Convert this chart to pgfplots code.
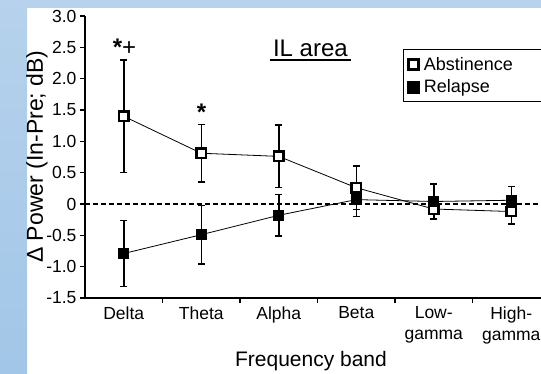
\documentclass[border=0pt]{standalone}
\usepackage{pgfplots}
\usepackage{pgfplotstable}
\pgfplotsset{compat=1.18}
\usepackage{fontspec}
\setmainfont{Liberation Sans}

\definecolor{bgtop}{RGB}{182,210,236}
\definecolor{bgbot}{RGB}{162,198,232}

% a single square mark as legend symbol
\pgfplotsset{sqlegend/.style={legend image code/.code={%
  \path (0pt,-6pt) rectangle (12pt,6pt);
  \draw[##1] plot coordinates {(6pt,0pt)};}}}

% band, mean change, error
\pgfplotstableread{
x y e
0 1.40 0.90
1 0.81 0.46
2 0.76 0.50
3 0.26 0.35
4 -0.08 0.16
5 -0.12 0.20
}\abstinence

\pgfplotstableread{
x y e
0 -0.79 0.53
1 -0.49 0.47
2 -0.18 0.33
3 0.07 0.27
4 0.04 0.28
5 0.06 0.22
}\relapse

\newcommand\legfont{\fontsize{18}{21}\selectfont}

\begin{document}
\begin{tikzpicture}
\useasboundingbox (0pt,0pt) rectangle (541pt,373pt);
\fill[white] (0pt,0pt) rectangle (541pt,373pt);
\shade[top color=bgtop, bottom color=bgbot] (0pt,0pt) rectangle (27pt,373pt);
\fill[bgtop] (0pt,364.5pt) rectangle (541pt,373pt);

\begin{scope}
\clip (0pt,0pt) rectangle (541pt,373pt);
\begin{axis}[
  at={(85pt,75pt)}, anchor=south west,
  scale only axis, width=465pt, height=282pt,
  xmin=-0.5, xmax=5.5, ymin=-1.5, ymax=3,
  axis x line*=bottom, axis y line*=left,
  axis line style={-, line width=1.2pt, black},
  xtick={0,1,2,3,4,5},
  xticklabels={Delta,Theta,Alpha,Beta,{Low-\\gamma},{High-\\gamma}},
  major x tick style={draw=none},
  minor xtick={0.5,1.5,2.5,3.5,4.5},
  ytick={-1.5,-1,-0.5,0,0.5,1,1.5,2,2.5,3},
  yticklabels={-1.5,-1.0,-0.5,0,0.5,1.0,1.5,2.0,2.5,3.0},
  tick align=outside, major tick length=5pt, minor tick length=5pt,
  tick style={line width=1.2pt, black},
  ticklabel style={font=\fontsize{17.5}{21}\selectfont},
  xticklabel style={align=center},
  legend style={at={(axis cs:3.6,2.47)}, anchor=north west, draw=black,
    line width=0.8pt, font=\legfont,
    nodes={inner xsep=2pt, inner ysep=4pt},
    row sep=0pt, column sep=2pt, inner xsep=4pt, inner ysep=3.5pt},
  legend cell align=left,
]
% the legend frame runs on past the right edge of the picture
\addlegendimage{only marks, mark=square*, mark size=4.6pt,
  mark options={fill=white, draw=black, line width=2pt}, sqlegend}
\addlegendentry{\makebox[150pt][l]{Abstinence}}
\addlegendimage{only marks, mark=square*, mark size=5.2pt,
  mark options={fill=black, draw=black, line width=0.6pt}, sqlegend}
\addlegendentry{Relapse}

\draw[line width=1.3pt, dash pattern=on 4.5pt off 3.5pt] (axis cs:-0.5,0) -- (axis cs:5.5,0);

\addplot[forget plot, black, line width=0.8pt, mark=square*, mark size=4.8pt,
  mark options={fill=white, draw=black, line width=2.2pt, solid},
  error bars/.cd, y dir=both, y explicit,
  error bar style={line width=1.5pt, black},
  error mark options={rotate=90, mark size=3.5pt, line width=1.5pt, black}]
  table[x=x, y=y, y error=e] {\abstinence};

\addplot[forget plot, black, line width=0.8pt, mark=square*, mark size=5.2pt,
  mark options={fill=black, draw=black, line width=1pt, solid},
  error bars/.cd, y dir=both, y explicit,
  error bar style={line width=1.5pt, black},
  error mark options={rotate=90, mark size=3.5pt, line width=1.5pt, black}]
  table[x=x, y=y, y error=e] {\relapse};
\end{axis}
\end{scope}

% title, significance marks and axis titles
\node[anchor=base, font=\fontsize{24}{24}\selectfont] (t) at (310.4pt,316.5pt) {IL area};
\draw[line width=1.4pt] ([yshift=-3.5pt]t.base west) -- ([yshift=-3.5pt]t.base east);
\node[anchor=base, font=\fontsize{24}{24}\selectfont] at (124.5pt,317pt) {\textbf{*}+};
\node[anchor=base, font=\fontsize{24}{24}\selectfont] at (201.5pt,253pt) {\textbf{*}};
\node[anchor=base west, rotate=90, inner sep=0pt, font=\fontsize{23}{23}\selectfont] at (43pt,110pt) {Δ Power (In-Pre; dB)};
\node[anchor=base, font=\fontsize{21}{21}\selectfont] at (311pt,6.3pt) {Frequency band};
\end{tikzpicture}
\end{document}
